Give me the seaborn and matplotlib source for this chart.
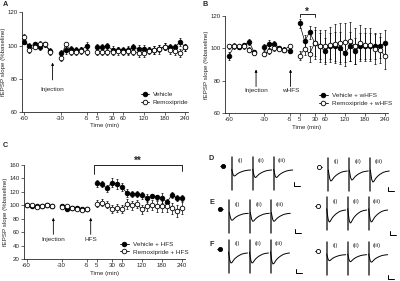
import numpy as np
import pandas as pd
import matplotlib
matplotlib.use('Agg')
import matplotlib.pyplot as plt
import seaborn as sns
from matplotlib.lines import Line2D

# ---- data ----
# sample times (min): baseline, after injection, after (w)HFS
times_base = [-60, -55, -50, -45, -40, -35]
times_inj = [-30, -25, -20, -15, -10, -5]
times_post = [5, 10, 20, 30, 45, 60, 75, 90, 105, 120, 135, 150, 165, 180, 195, 210, 225, 240]
tick_times = [-60, -30, -5, 5, 30, 60, 120, 180, 240]

# panel A
A_veh = [102.3, 99.7, 100.7, 99.1, 100.7, 96.7,
         95.3, 97.3, 98.1, 97.3, 97.3, 99.9,
         98.9, 98.9, 99.7, 97.3, 97.3, 97.3, 97.3, 98.9, 98.1, 98.1, 97.3, 97.3, 98.1, 99.3, 98.9, 98.9, 102.3, 98.9]
A_rem = [105.1, 97.1, 99.3, 100.7, 100.7, 96.3,
         92.3, 100.9, 96.3, 96.3, 96.9, 96.3,
         96.3, 96.3, 96.3, 96.3, 96.7, 96.3, 96.9, 96.3, 95.7, 95.3, 96.9, 97.3, 97.7, 99.3, 97.3, 96.9, 95.7, 98.9]
A_veh_sem = [1.5, 1.8, 1.2, 2.0, 1.5, 1.8,
             2.0, 2.2, 1.8, 2.0, 1.8, 2.0,
             2.0, 2.2, 2.0, 2.2, 2.0, 2.0, 2.2, 2.0, 2.2, 2.0, 2.0, 2.2, 2.0, 2.0, 2.2, 2.2, 2.5, 2.0]
A_rem_sem = [1.8, 1.5, 1.5, 1.8, 1.5, 1.8,
             1.8, 1.5, 1.8, 2.0, 2.0, 2.0,
             2.0, 2.2, 2.2, 2.0, 2.2, 2.2, 2.5, 2.2, 2.5, 2.5, 2.2, 2.2, 2.5, 2.2, 2.2, 2.5, 2.5, 2.2]

# panel B
B_veh = [95.6, 101.4, 101.0, 102.0, 104.0, 97.5,
         101.0, 102.8, 102.8, 100.3, 99.3, 98.7,
         115.4, 104.5, 110.1, 103.4, 101.4, 98.3, 101.4, 101.4, 100.3, 97.2, 101.4, 98.3, 101.4, 101.4, 101.4, 101.4, 101.8, 103.4]
B_rem = [101.4, 101.8, 101.4, 101.4, 99.3, 97.2,
         96.8, 98.5, 100.3, 99.7, 99.3, 101.4,
         95.6, 99.7, 96.8, 103.4, 101.4, 101.4, 102.4, 103.0, 103.4, 103.9, 104.5, 101.4, 103.4, 102.4, 102.4, 99.7, 98.9, 95.2]
B_veh_sem = [2.5, 1.5, 1.5, 1.5, 2.0, 1.5,
             2.0, 2.5, 2.0, 1.5, 1.5, 1.5,
             3.0, 4.0, 4.0, 8.0, 8.0, 8.0, 8.0, 9.0, 10.0, 8.0, 9.0, 8.0, 8.0, 8.0, 8.0, 8.0, 8.0, 8.0]
B_rem_sem = [1.5, 1.5, 1.5, 1.5, 1.5, 1.5,
             1.5, 2.0, 2.0, 1.5, 1.5, 1.5,
             3.0, 4.0, 5.0, 10.0, 10.0, 10.0, 11.0, 12.0, 12.0, 12.0, 12.0, 11.0, 11.0, 10.0, 10.0, 9.0, 8.0, 8.0]

# panel C
C_veh = [100.9, 98.4, 99.4, 98.4, 99.9, 99.4,
         98.4, 94.4, 96.4, 96.9, 95.4, 94.4,
         132.9, 131.9, 125.5, 133.9, 131.9, 127.0, 118.6, 117.1, 117.1, 115.2, 111.2, 114.2, 112.2, 111.2, 104.8, 115.6, 111.2, 111.2]
C_rem = [101.2, 99.9, 97.4, 99.4, 100.4, 99.4,
         97.9, 98.9, 96.9, 95.4, 93.5, 94.9,
         102.3, 103.8, 100.9, 94.9, 95.9, 94.0, 102.3, 99.9, 102.3, 94.0, 98.9, 100.9, 98.4, 98.4, 98.9, 95.9, 91.5, 95.9]
C_veh_sem = [1.5, 1.5, 1.5, 1.5, 1.5, 1.5,
             1.5, 1.5, 1.5, 1.5, 1.5, 1.5,
             5.0, 5.0, 5.0, 7.0, 7.0, 6.0, 6.0, 5.0, 4.0, 5.0, 6.0, 3.0, 4.0, 7.0, 5.0, 4.0, 4.0, 5.0]
C_rem_sem = [1.5, 1.5, 1.5, 1.5, 1.5, 1.5,
             1.5, 1.5, 1.5, 1.5, 1.5, 1.5,
             5.0, 5.0, 5.0, 6.0, 6.0, 6.0, 7.0, 6.0, 6.0, 7.0, 7.0, 7.0, 8.0, 8.0, 9.0, 8.0, 9.0, 9.0]

# example fEPSP traces: normalised waveform and trough depth per trace (i, ii, iii)
wave_t = [0, 0.7, 1.5, 2.5, 3.5, 4.5, 6, 8, 10, 13, 16, 19]
wave_v = [0.1, -0.35, -0.8, -1.0, -0.95, -0.8, -0.6, -0.42, -0.28, -0.12, -0.04, 0.0]
D_veh_depth = [6, 7.5, 7.5]
D_rem_depth = [10, 9, 11]
E_veh_depth = [7, 8, 8]
E_rem_depth = [12, 13, 12]
F_veh_depth = [10, 10, 11]
F_rem_depth = [6, 7, 7.5]
trace_labels = ['(i)', '(ii)', '(iii)']

# ---- style ----
sns.set_style('ticks')
plt.rcParams['font.family'] = ['Liberation Sans', 'DejaVu Sans']
plt.rcParams['axes.linewidth'] = 0.6
FS = 4.4

W, H = 400, 281
fig = plt.figure(figsize=(4, 2.81), dpi=100)


def px_axes(left, top, right, bottom):
    return fig.add_axes([left / W, 1 - bottom / H, (right - left) / W, (bottom - top) / H])


# plotting positions: sample order with a one-slot gap between segments
all_times = times_base + times_inj + times_post
slots = list(range(0, 6)) + list(range(7, 13)) + list(range(14, 32))
slot_of = dict(zip(all_times, slots))
segments = ['base'] * 6 + ['inj'] * 6 + ['post'] * 18


def draw_panel(ax, veh, rem, veh_sem, rem_sem, labels, ylim, yticks):
    df = pd.DataFrame({
        'slot': slots * 2,
        'value': veh + rem,
        'sem': veh_sem + rem_sem,
        'group': ['Vehicle'] * 30 + ['Remoxipride'] * 30,
        'seg': segments * 2,
    })
    df['line'] = df['group'] + df['seg']
    for grp in ['Vehicle', 'Remoxipride']:
        sub = df[df['group'] == grp]
        ax.errorbar(sub['slot'], sub['value'], yerr=sub['sem'], fmt='none',
                    ecolor='black', elinewidth=0.5, capsize=1.0, capthick=0.5, zorder=1)
    sns.lineplot(data=df, x='slot', y='value', hue='group', units='line',
                 estimator=None, palette=['black', 'black'], lw=0.5,
                 legend=False, ax=ax, zorder=2)
    for grp, face in [('Vehicle', 'black'), ('Remoxipride', 'white')]:
        sub = df[df['group'] == grp]
        sns.scatterplot(data=sub, x='slot', y='value', color=face, edgecolor='black',
                        linewidth=0.6, s=11, ax=ax, zorder=3, legend=False)
    ax.set_ylim(*ylim)
    ax.set_yticks(yticks)
    ax.set_xticks([slot_of[t] for t in tick_times])
    ax.set_xticklabels([str(t) for t in tick_times])
    ax.tick_params(labelsize=FS, length=2, width=0.5, pad=1)
    ax.set_xlabel('Time (min)', fontsize=FS, labelpad=1.5)
    ax.set_ylabel('fEPSP slope (%baseline)', fontsize=FS, labelpad=1)
    sns.despine(ax=ax)
    handles = [Line2D([0], [0], color='black', lw=0.6, marker='o', markersize=3.3,
                      markerfacecolor=f, markeredgecolor='black', markeredgewidth=0.6)
               for f in ['black', 'white']]
    return handles


def arrow(ax, x, y0, y1, text, ty):
    ax.annotate('', xy=(x, y1), xytext=(x, y0),
                arrowprops=dict(arrowstyle='-|>', lw=0.6, color='black',
                                mutation_scale=3.5, shrinkA=0, shrinkB=0))
    ax.text(x, ty, text, ha='center', va='center', fontsize=FS + 0.2)


# ---- panel A ----
axA = px_axes(21.7, 12.3, 187.9, 112)
h = draw_panel(axA, A_veh, A_rem, A_veh_sem, A_rem_sem, None, (60, 120), [60, 80, 100, 120])
axA.set_xlim(-0.5, 31.5)
arrow(axA, 5.45, 79.3, 89.7, 'Injection', 73.6)
axA.legend(h, ['Vehicle', 'Remoxipride'], loc='upper left', bbox_to_anchor=(0.715, 0.205),
           frameon=False, fontsize=FS + 0.2, handlelength=1.4, handletextpad=0.55,
           borderpad=0, borderaxespad=0, labelspacing=0.4)

# ---- panel B ----
axB = px_axes(225, 16, 387.8, 113.3)
h = draw_panel(axB, B_veh, B_rem, B_veh_sem, B_rem_sem, None, (60, 120), [60, 80, 100, 120])
axB.set_xlim(-0.8, 31.5)
arrow(axB, 5.36, 76.5, 87.0, 'Injection', 74.1)
arrow(axB, 12.2, 76.5, 87.0, 'wHFS', 74.1)
axB.plot([14, 14, 17, 17], [119.2, 121.2, 121.2, 119.2], color='black', lw=0.6, clip_on=False)
axB.text(15.5, 122.3, '*', ha='center', va='center', fontsize=7, fontweight='bold')
axB.legend(h, ['Vehicle + wHFS', 'Remoxipride + wHFS'], loc='upper left',
           bbox_to_anchor=(0.575, 0.215), frameon=False, fontsize=FS + 0.2,
           handlelength=1.4, handletextpad=0.7, borderpad=0, borderaxespad=0, labelspacing=0.45)

# ---- panel C ----
axC = px_axes(24, 165, 184.5, 259.3)
h = draw_panel(axC, C_veh, C_rem, C_veh_sem, C_rem_sem, None, (20, 160), list(range(20, 161, 20)))
axC.set_xlim(-0.5, 31.5)
arrow(axC, 5.35, 57, 81.6, 'Injection', 50.1)
arrow(axC, 12.8, 57, 81.6, 'HFS', 50.1)
axC.plot([13.45, 13.45, 31, 31], [146.7, 160, 160, 151.6], color='black', lw=0.6, clip_on=False)
axC.text(22.2, 166.5, '**', ha='center', va='center', fontsize=7, fontweight='bold')
axC.legend(h, ['Vehicle + HFS', 'Remoxipride + HFS'], loc='upper left',
           bbox_to_anchor=(0.596, 0.19), frameon=False, fontsize=FS + 0.2,
           handlelength=1.4, handletextpad=0.7, borderpad=0, borderaxespad=0, labelspacing=0.35)

# ---- panels D-F: example traces ----
trace_groups = [
    # depths, filled marker, first artifact x (px), baseline y (px), scale bar corner
    (D_veh_depth, True, 231.7, 170.0, (62, -16)),
    (D_rem_depth, False, 328.3, 171.0, (60, -20)),
    (E_veh_depth, True, 229.3, 213.3, (66, -20)),
    (E_rem_depth, False, 326.7, 210.0, (63, -25)),
    (F_veh_depth, True, 228.5, 253.0, (67, -20)),
    (F_rem_depth, False, 326.7, 254.7, (61, -24)),
]
for depths, filled, x0, y0, bar in trace_groups:
    ax = px_axes(x0 - 14, y0 - 17, x0 + 75, y0 + 28)
    ax.set_xlim(-14, 75)
    ax.set_ylim(-28, 17)
    ax.axis('off')
    for i, d in enumerate(depths):
        off = i * 21
        ax.plot([off, off], [13, -20], color='#333333', lw=1.1)
        ax.plot(np.array(wave_t) + off, np.array(wave_v) * d, color='black', lw=0.7)
        ax.text(off + 8.5, 9, trace_labels[i], ha='center', va='center', fontsize=FS)
    ax.plot([-11.5, -6.5], [4, 4], color='black', lw=0.6)
    ax.plot([-9], [4], marker='o', markersize=3.0, color='black',
            markerfacecolor='black' if filled else 'white', markeredgewidth=0.6)
    bx, by = bar
    ax.plot([bx, bx, bx + 6], [by + 4, by, by], color='black', lw=0.7)

# ---- panel letters ----
for letter, x, y in [('A', 3, 4), ('B', 203, 4.5), ('C', 3, 145.5),
                     ('D', 211.5, 159), ('E', 211.5, 202), ('F', 211.5, 245)]:
    fig.text(x / W, 1 - y / H, letter, ha='left' if letter in 'ABC' else 'center',
             va='center', fontsize=5.2, fontweight='bold')

fig.savefig('out.png', dpi=100)
